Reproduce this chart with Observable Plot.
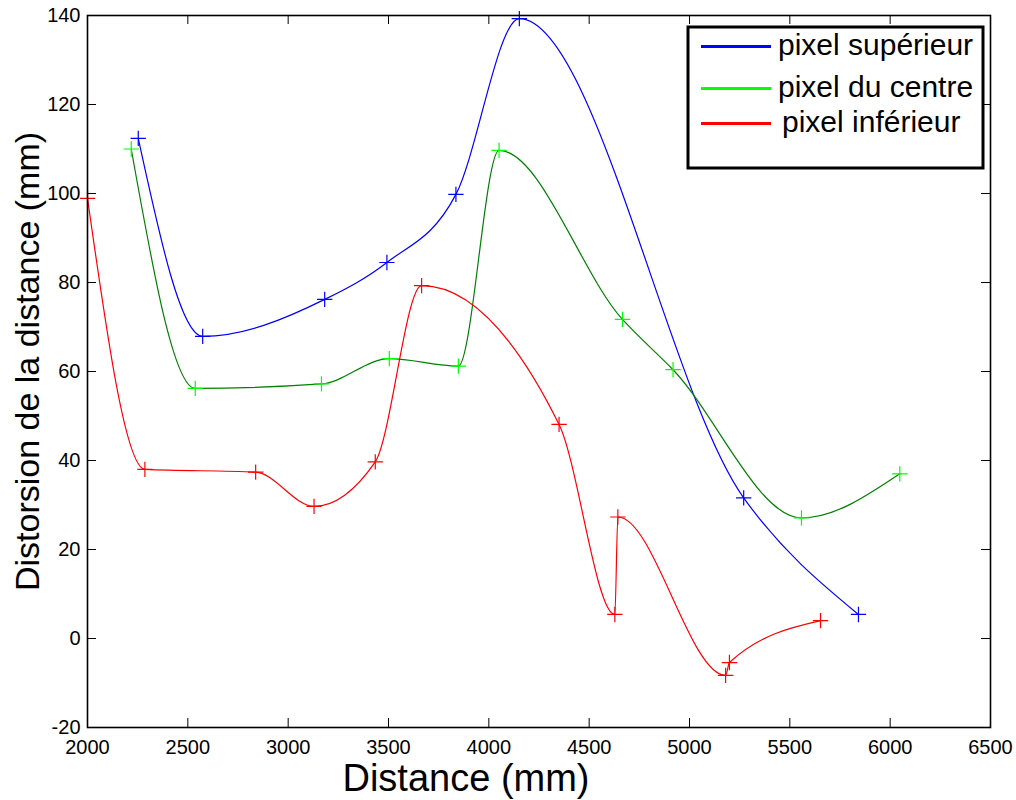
<!DOCTYPE html>
<html><head><meta charset="utf-8">
<script src="https://cdn.jsdelivr.net/npm/d3@7"></script>
<script src="https://cdn.jsdelivr.net/npm/@observablehq/plot@0.6"></script>
<style>
body{margin:0;background:#fff}
#chart{position:relative;width:1016px;height:800px}
</style>
</head><body><div id="chart"></div>
<script>
const seriesNames = ["pixel supérieur", "pixel du centre", "pixel inférieur"];
const lineColors = ["#0000ff", "#008000", "#ff0000"];
const markerColors = ["#0000ff", "#00ff00", "#ff0000"];
const legendColors = ["#0000ff", "#00ff00", "#ff0000"];

const superieurX = [2253, 2574, 3182, 3492, 3836, 4152, 5270, 5842];
const superieurY = [112.4, 67.9, 76.2, 84.5, 99.8, 139.3, 31.6, 5.4];
const centreX = [2218, 2537, 3166, 3504, 3848, 4051, 4666, 4918, 5558, 6048];
const centreY = [110.0, 56.2, 57.2, 62.9, 61.2, 109.7, 71.7, 60.4, 27.1, 37.0];
const inferieurX = [2000, 2286, 2838, 3129, 3434, 3665, 4350, 4628, 4643, 5180, 5199, 5653];
const inferieurY = [98.9, 38.0, 37.4, 29.7, 39.7, 79.3, 48.1, 5.4, 27.3, -8.3, -5.4, 4.0];

const xTicks = [2000, 2500, 3000, 3500, 4000, 4500, 5000, 5500, 6000, 6500];
const yTicks = [-20, 0, 20, 40, 60, 80, 100, 120, 140];
const xLabel = "Distance (mm)";
const yLabel = "Distorsion de la distance (mm)";

const seriesX = [superieurX, centreX, inferieurX];
const seriesY = [superieurY, centreY, inferieurY];
const rows = [];
seriesNames.forEach((name, i) => {
  seriesX[i].forEach((x, j) => rows.push({series: name, idx: i, x, y: seriesY[i][j]}));
});

const font = "'Liberation Sans', Arial, Helvetica, sans-serif";
const fmt = d => String(d);

const W = 1016, H = 800, mL = 87, mR = 26, mT = 15, mB = 73;
const frameW = W - mL - mR, frameH = H - mT - mB, tick = 9;

const plot = Plot.plot({
  width: W,
  height: H,
  marginLeft: mL,
  marginRight: mR,
  marginTop: mT,
  marginBottom: mB,
  style: {fontFamily: font, fontSize: "20px", color: "black", background: "white"},
  x: {domain: [2000, 6500]},
  y: {domain: [-20, 140]},
  marks: [
    Plot.axisX({anchor: "bottom", ticks: xTicks, tickSize: 0, tickPadding: 12, fontSize: 20, tickFormat: fmt, label: null}),
    Plot.axisY({anchor: "left", ticks: yTicks, tickSize: 0, tickPadding: 7, fontSize: 20, tickFormat: fmt, label: null}),
    // inward ticks on all four sides
    Plot.gridX({ticks: xTicks, stroke: "black", strokeOpacity: 1, insetTop: frameH - tick}),
    Plot.gridX({ticks: xTicks, stroke: "black", strokeOpacity: 1, insetBottom: frameH - tick}),
    Plot.gridY({ticks: yTicks, stroke: "black", strokeOpacity: 1, insetRight: frameW - tick}),
    Plot.gridY({ticks: yTicks, stroke: "black", strokeOpacity: 1, insetLeft: frameW - tick}),
    Plot.line(rows, {x: "x", y: "y", z: "series", stroke: d => lineColors[d.idx], strokeWidth: 1.2, curve: "monotone-x"}),
    Plot.dot(rows, {x: "x", y: "y", symbol: "plus", r: 5, stroke: d => markerColors[d.idx], strokeWidth: 1.2}),
    Plot.frame({stroke: "black", strokeWidth: 1.6}),
    Plot.text([xLabel], {text: d => d, frameAnchor: "bottom", textAnchor: "middle", dx: -73, dy: 51, fontSize: 38, lineAnchor: "middle", fill: "black"}),
    Plot.text([yLabel], {text: d => d, frameAnchor: "left", textAnchor: "middle", rotate: -90, dx: -59, dy: -10, fontSize: 34, lineAnchor: "middle", fill: "black"})
  ]
});

document.getElementById("chart").appendChild(plot);

const svg = d3.select(plot);

// Legend box (top-right inside the plot area)
const lg = svg.append("g").attr("font-family", font).attr("text-anchor", "start");
lg.append("rect").attr("x", 688).attr("y", 27).attr("width", 295).attr("height", 141)
  .attr("fill", "white").attr("stroke", "black").attr("stroke-width", 3);
const baselines = [55, 97, 132];
const textX = [778, 778, 782];
seriesNames.forEach((name, i) => {
  lg.append("line").attr("x1", 701).attr("x2", 771)
    .attr("y1", baselines[i] - 8.5).attr("y2", baselines[i] - 8.5)
    .attr("stroke", legendColors[i]).attr("stroke-width", 3);
  lg.append("text").attr("x", textX[i]).attr("y", baselines[i])
    .attr("font-size", 30).attr("fill", "black").attr("text-anchor", "start").text(name);
});
</script>
</body></html>
